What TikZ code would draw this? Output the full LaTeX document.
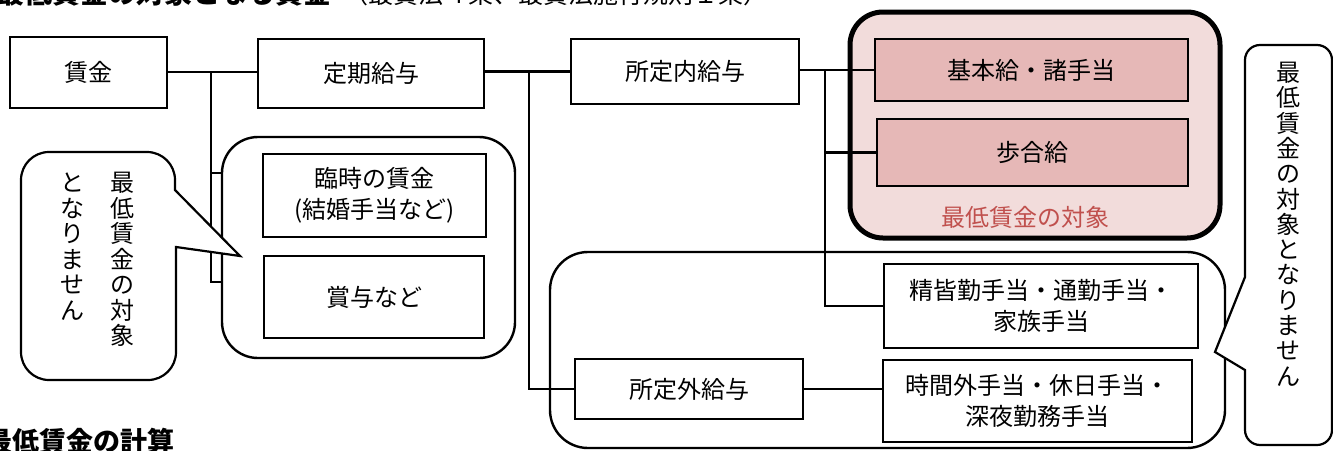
\documentclass[tikz,border=0pt]{standalone}
\usepackage{fontspec}
\setmainfont{Noto Sans CJK JP}
\usetikzlibrary{calc}
\definecolor{pinkbg}{HTML}{F2DCDB}
\definecolor{pinkbox}{HTML}{E6B8B7}
\definecolor{redtxt}{HTML}{C0504D}
\begin{document}
\begin{tikzpicture}[x=1pt,y=-1pt,
  box/.style={draw, line width=1.6pt, fill=white, inner sep=0pt, align=center, font=\fontsize{24}{31}\selectfont},
  pbox/.style={box, fill=pinkbox},
  conn/.style={line width=2.6pt},
  cont/.style={draw, line width=2.4pt, inner sep=0pt},
  bubble/.style={draw, line width=2.2pt, fill=white, line join=miter},
  vtext/.style={inner sep=0pt, align=center, anchor=north, font=\fontsize{24}{25.5}\selectfont},
]
\useasboundingbox (0,0) rectangle (1333,450);
\clip (0,0) rectangle (1333,450);

% titles
\node[anchor=base east, inner sep=0pt, font=\bfseries\fontsize{28}{30}\selectfont] (t1) at (332,3) {最低賃金の対象となる賃金};
\node[anchor=base west, inner sep=0pt, font=\fontsize{25}{28}\selectfont] (t1b) at (343,3) {（最賃法４条、最賃法施行規則１条）};
\node[anchor=base east, inner sep=0pt, font=\bfseries\fontsize{27}{30}\selectfont] (t2) at (175,451) {最低賃金の計算};

% containers
\node[cont, line width=5pt, fill=pinkbg, rounded corners=33pt, minimum width=370pt, minimum height=226pt] (pink) at (1035,125) {};
\node[cont, rounded corners=36pt, minimum width=293pt, minimum height=221pt] (mid) at (368.5,247.5) {};
\node[cont, rounded corners=38pt, minimum width=675pt, minimum height=196pt] (big) at (887.5,350) {};

% boxes
\node[box, minimum width=157pt, minimum height=71pt] (chingin) at (88.5,72.5) {賃金};
\node[box, minimum width=226pt, minimum height=69pt] (teiki) at (371,73.5) {定期給与};
\node[box, minimum width=228pt, minimum height=65pt] (shoteinai) at (685,71.5) {所定内給与};
\node[pbox, minimum width=313pt, minimum height=62pt] (kihon) at (1031.5,70) {基本給・諸手当};
\node[pbox, minimum width=311pt, minimum height=67pt] (buai) at (1032.5,152.5) {歩合給};
\node[box, minimum width=223pt, minimum height=83pt] (rinji) at (374.5,195.5) {臨時の賃金\\(結婚手当など)};
\node[box, minimum width=220pt, minimum height=82pt] (shoyo) at (374,297) {賞与など};
\node[box, minimum width=314pt, minimum height=84pt] (seikai) at (1041,306) {精皆勤手当・通勤手当・\\家族手当};
\node[box, minimum width=228pt, minimum height=60pt] (shoteigai) at (689,389) {所定外給与};
\node[box, minimum width=309pt, minimum height=82pt] (jikangai) at (1037.5,401) {時間外手当・休日手当・\\深夜勤務手当};
\node[text=redtxt, inner sep=0pt, font=\fontsize{24}{28}\selectfont] (pinklabel) at (1025,217) {最低賃金の対象};

% connectors
\coordinate (j1) at (211,72);
\coordinate (j2) at (529,71.5);
\coordinate (j3) at (825,70);
\draw[conn] (chingin.east |- j1) -- (teiki.west |- j1);
\draw[conn] (j1) -- (j1 |- 0,282) -- (mid.west |- 0,282);
\draw[conn] (j1 |- 0,173) -- (mid.west |- 0,173);
\draw[conn] (teiki.east |- j2) -- (shoteinai.west |- j2);
\draw[conn] (j2) |- (shoteigai.west);
\draw[conn] (shoteinai.east |- j3) -- (kihon.west |- j3);
\draw[conn] (j3) |- (seikai.west);
\draw[conn] (j3 |- buai.west) -- (buai.west);
\draw[conn] (shoteigai.east) -- (shoteigai.east -| jikangai.west);

% left callout
\draw[bubble] (49,152) -- (147,152) arc[start angle=-90, end angle=0, radius=28]
  -- (175,190) -- (240,256) -- (176,247) -- (176,352)
  arc[start angle=0, end angle=90, radius=28] -- (49,380)
  arc[start angle=90, end angle=180, radius=28] -- (21,180)
  arc[start angle=180, end angle=270, radius=28] -- cycle;
\node[vtext] (lc1) at (122,172) {最\\低\\賃\\金\\の\\対\\象};
\node[vtext] (lc2) at (72,173) {と\\な\\り\\ま\\せ\\ん};

% right callout
\draw[bubble] (1260,45) -- (1317,45) arc[start angle=-90, end angle=0, radius=15]
  -- (1332,430) arc[start angle=0, end angle=90, radius=15]
  -- (1260,445) arc[start angle=90, end angle=180, radius=15]
  -- (1245,370) -- (1215,352) -- (1245,277) -- (1245,60)
  arc[start angle=180, end angle=270, radius=15] -- cycle;
\node[vtext, font=\fontsize{24}{25.3}\selectfont] (rc) at (1288,62) {最\\低\\賃\\金\\の\\対\\象\\と\\な\\り\\ま\\せ\\ん};
\end{tikzpicture}
\end{document}
